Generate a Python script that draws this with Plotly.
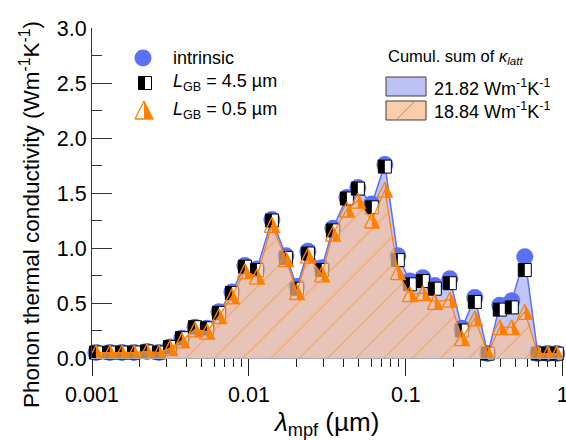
import plotly.graph_objects as go

# ---------------- data ----------------
lam_um = [0.00106, 0.00130, 0.00155, 0.00185, 0.00224, 0.00267, 0.00314, 0.00374,
          0.00453, 0.00540, 0.00644, 0.00779, 0.00943, 0.01125, 0.01401, 0.01721,
          0.02022, 0.02376, 0.02917, 0.03428, 0.04210, 0.04946, 0.06073, 0.07349,
          0.08892, 0.1061, 0.1283, 0.1530, 0.1907, 0.2274, 0.2752, 0.3329,
          0.3970, 0.4734, 0.5728, 0.6931, 0.8024, 0.9158]
k_intrinsic = [0.05, 0.05, 0.05, 0.05, 0.06, 0.05, 0.10, 0.18, 0.28, 0.27, 0.42, 0.60,
               0.84, 0.81, 1.26, 0.93, 0.65, 0.97, 0.82, 1.18, 1.46, 1.55, 1.40, 1.76,
               0.93, 0.70, 0.73, 0.66, 0.72, 0.27, 0.55, 0.04, 0.48, 0.52, 0.92, 0.04,
               0.04, 0.04]
k_lgb45 = [0.05, 0.05, 0.05, 0.05, 0.06, 0.05, 0.10, 0.18, 0.28, 0.27, 0.41, 0.59,
           0.83, 0.80, 1.25, 0.91, 0.63, 0.95, 0.80, 1.16, 1.45, 1.54, 1.37, 1.74,
           0.89, 0.67, 0.70, 0.63, 0.68, 0.25, 0.51, 0.04, 0.44, 0.46, 0.80, 0.04,
           0.04, 0.04]
k_lgb05 = [0.05, 0.05, 0.05, 0.05, 0.06, 0.05, 0.09, 0.16, 0.26, 0.24, 0.38, 0.56,
           0.79, 0.74, 1.21, 0.90, 0.60, 0.93, 0.76, 1.13, 1.35, 1.43, 1.25, 1.53,
           0.78, 0.58, 0.59, 0.51, 0.53, 0.18, 0.36, 0.04, 0.28, 0.28, 0.42, 0.04,
           0.04, 0.04]

series_names = ["intrinsic", "<i>L</i><sub>GB</sub> = 4.5 µm", "<i>L</i><sub>GB</sub> = 0.5 µm"]
cumul_title = "Cumul. sum of <i>κ</i><sub><i>latt</i></sub>"
cumul_labels = ["21.82 Wm<sup>-1</sup>K<sup>-1</sup>", "18.84 Wm<sup>-1</sup>K<sup>-1</sup>"]
x_tickvals = [0.001, 0.01, 0.1, 1]
x_ticktext = ["0.001", "0.01", "0.1", "1"]
y_tickvals = [0.0, 0.5, 1.0, 1.5, 2.0, 2.5, 3.0]
y_ticktext = ["0.0", "0.5", "1.0", "1.5", "2.0", "2.5", "3.0"]
y_title = "Phonon thermal conductivity (Wm<sup>-1</sup>K<sup>-1</sup>)"
x_title = "<i>λ</i><sub>mpf</sub> (µm)"

# ---------------- layout constants ----------------
W, H = 566, 440
ML, MR, MT, MB = 92, 3, 28, 82
PW, PH = W - ML - MR, H - MT - MB
X_DECADES, Y_MAX = 3.0, 3.0
PX_PER_DEC = PW / X_DECADES
PX_PER_UNIT = PH / Y_MAX

BLUE = "rgb(92,112,245)"
BLUE_FILL = "rgba(92,112,245,0.40)"
ORANGE = "rgb(255,128,0)"
ORANGE_FILL = "rgba(250,192,152,0.68)"
FONT = "Liberation Sans, Arial, sans-serif"


def xmul(px):
    return 10 ** (px / PX_PER_DEC)


def ydat(px):
    return px / PX_PER_UNIT


def px_paper_x(px):
    return (px - ML) / PW


def px_paper_y(py):
    return (H - MB - py) / PH


def tri_paths(xs, ys, w, h, fx, fy):
    """outline + right-half polygons for half-filled up-triangles"""
    ox, oy, hx, hy = [], [], [], []
    for x, y in zip(xs, ys):
        xl, xr = fx(x, -w / 2), fx(x, w / 2)
        yb, yt = fy(y, -h / 2), fy(y, h / 2)
        ox += [xl, x, xr, xl, None]
        oy += [yb, yt, yb, yb, None]
        hx += [x, x, xr, x, None]
        hy += [yb, yt, yb, yb, None]
    return ox, oy, hx, hy


fig = go.Figure()

# intrinsic area + circles
fig.add_trace(go.Scatter(x=lam_um, y=k_intrinsic, mode="lines",
                         line=dict(color=BLUE, width=1.5),
                         fill="tozeroy", fillcolor=BLUE_FILL, showlegend=False))
fig.add_trace(go.Scatter(x=lam_um, y=k_intrinsic, mode="markers",
                         marker=dict(symbol="circle", size=17, color=BLUE),
                         cliponaxis=False, showlegend=False))

# L_GB = 4.5 um squares (half filled)
SQ = 13
fig.add_trace(go.Scatter(x=lam_um, y=k_lgb45, mode="markers",
                         marker=dict(symbol="square", size=SQ, color="white",
                                     line=dict(color="black", width=1)),
                         cliponaxis=False, showlegend=False))
fig.add_trace(go.Scatter(x=[v * xmul(-SQ / 4) for v in lam_um], y=k_lgb45, mode="markers",
                         marker=dict(symbol="line-ns", size=SQ / 1.4, color="black",
                                     line=dict(color="black", width=SQ / 2)),
                         cliponaxis=False, showlegend=False))

# L_GB = 0.5 um area (hatched)
fig.add_trace(go.Scatter(x=lam_um, y=k_lgb05, mode="lines",
                         line=dict(color=ORANGE, width=1.2),
                         fill="tozeroy", fillcolor=ORANGE_FILL,
                         fillpattern=dict(shape="/", size=20, solidity=0.05,
                                          fgcolor=ORANGE, bgcolor=ORANGE_FILL),
                         showlegend=False))

# triangles (half filled) in data space
TRI = 15
ox, oy, hx, hy = tri_paths(lam_um, k_lgb05, TRI, TRI,
                           lambda x, d: x * xmul(d), lambda y, d: y + ydat(d))
fig.add_trace(go.Scatter(x=hx, y=hy, mode="lines", fill="toself", fillcolor=ORANGE,
                         line=dict(width=0, color=ORANGE), showlegend=False))
fig.add_trace(go.Scatter(x=ox, y=oy, mode="lines", line=dict(width=1.3, color=ORANGE),
                         showlegend=False))

# ---------------- custom legends on a pixel overlay axis ----------------
LX = dict(xaxis="x2", yaxis="y2", showlegend=False, cliponaxis=False)
fig.add_trace(go.Scatter(x=[143], y=[58], mode="markers",
                         marker=dict(symbol="circle", size=17, color=BLUE), **LX))
fig.add_trace(go.Scatter(x=[145], y=[83], mode="markers",
                         marker=dict(symbol="square", size=13, color="white",
                                     line=dict(color="black", width=1)), **LX))
fig.add_trace(go.Scatter(x=[145 - 13 / 4], y=[83], mode="markers",
                         marker=dict(symbol="line-ns", size=13 / 1.4, color="black",
                                     line=dict(color="black", width=13 / 2)), **LX))
lox, loy, lhx, lhy = tri_paths([144], [110], 18, 18,
                               lambda x, d: x + d, lambda y, d: y - d)
fig.add_trace(go.Scatter(x=lhx, y=lhy, mode="lines", fill="toself", fillcolor=ORANGE,
                         line=dict(width=0, color=ORANGE), xaxis="x2", yaxis="y2",
                         showlegend=False))
fig.add_trace(go.Scatter(x=lox, y=loy, mode="lines", line=dict(width=1.3, color=ORANGE),
                         xaxis="x2", yaxis="y2", showlegend=False))

TXT = dict(showarrow=False, xref="paper", yref="paper")
annotations = []
for name, yy in zip(series_names, [58, 83, 110]):
    annotations.append(dict(x=px_paper_x(171), y=px_paper_y(yy), text=name,
                            xanchor="left", yanchor="middle",
                            font=dict(size=18, family=FONT, color="black"), **TXT))
annotations.append(dict(x=px_paper_x(386), y=px_paper_y(57), text=cumul_title,
                        xanchor="left", yanchor="middle",
                        font=dict(size=16.5, family=FONT, color="black"), **TXT))
for lab, yy in zip(cumul_labels, [87, 111]):
    annotations.append(dict(x=px_paper_x(432), y=px_paper_y(yy), text=lab,
                            xanchor="left", yanchor="middle",
                            font=dict(size=18, family=FONT, color="black"), **TXT))

# axis titles
annotations.append(dict(x=px_paper_x(30), y=px_paper_y(215), textangle=-90, text=y_title,
                        xanchor="center", yanchor="middle",
                        font=dict(size=22.5, family=FONT, color="black"), **TXT))
annotations.append(dict(x=px_paper_x(326), y=px_paper_y(423), text=x_title,
                        xanchor="center", yanchor="middle",
                        font=dict(size=26, family=FONT, color="black"), **TXT))

shapes = [
    dict(type="rect", xref="x2", yref="y2", x0=386, x1=426, y0=77, y1=96,
         fillcolor="rgb(186,194,246)", line=dict(color="#4a3a30", width=1), layer="above"),
    dict(type="rect", xref="x2", yref="y2", x0=386, x1=426, y0=101, y1=120,
         fillcolor="rgb(250,206,172)", line=dict(color="#4a3a30", width=1), layer="above"),
    dict(type="line", xref="x2", yref="y2", x0=396, x1=415, y0=120, y1=101,
         line=dict(color=ORANGE, width=1), layer="above"),
]

minor_x = [m * d for d in [0.001, 0.01, 0.1] for m in range(2, 10)]

fig.update_layout(
    width=W, height=H, margin=dict(l=ML, r=MR, t=MT, b=MB, autoexpand=False),
    paper_bgcolor="white", plot_bgcolor="white", showlegend=False,
    font=dict(family=FONT, color="black"),
    xaxis=dict(type="log", range=[-3, 0.0015], tickmode="array", tickvals=x_tickvals,
               ticktext=x_ticktext, ticks="outside", ticklen=17, tickwidth=1,
               tickcolor="#222", showline=True, linecolor="#aaaaaa", linewidth=1,
               showgrid=False, zeroline=False, tickfont=dict(size=21.5, family=FONT),
               ticklabeloverflow="allow", automargin=False,
               minor=dict(tickmode="array", tickvals=minor_x, ticks="outside",
                          ticklen=8, tickwidth=1, tickcolor="#222", showgrid=False)),
    yaxis=dict(range=[0, 3], tickmode="array", tickvals=y_tickvals, ticktext=y_ticktext,
               ticks="inside", ticklen=20, tickwidth=1, tickcolor="#333",
               showline=True, linecolor="#333", linewidth=1, showgrid=False,
               zeroline=False, tickfont=dict(size=21.5, family=FONT),
               ticklabeloverflow="allow", automargin=False,
               minor=dict(dtick=0.25, tick0=0, ticks="inside", ticklen=10, tickwidth=1,
                          tickcolor="#333", showgrid=False)),
    xaxis2=dict(overlaying="x", range=[ML, W - MR], visible=False, fixedrange=True,
                automargin=False),
    yaxis2=dict(overlaying="y", range=[H - MB, MT], visible=False, fixedrange=True,
                automargin=False),
    annotations=annotations, shapes=shapes,
)

fig.write_html("out.html")
